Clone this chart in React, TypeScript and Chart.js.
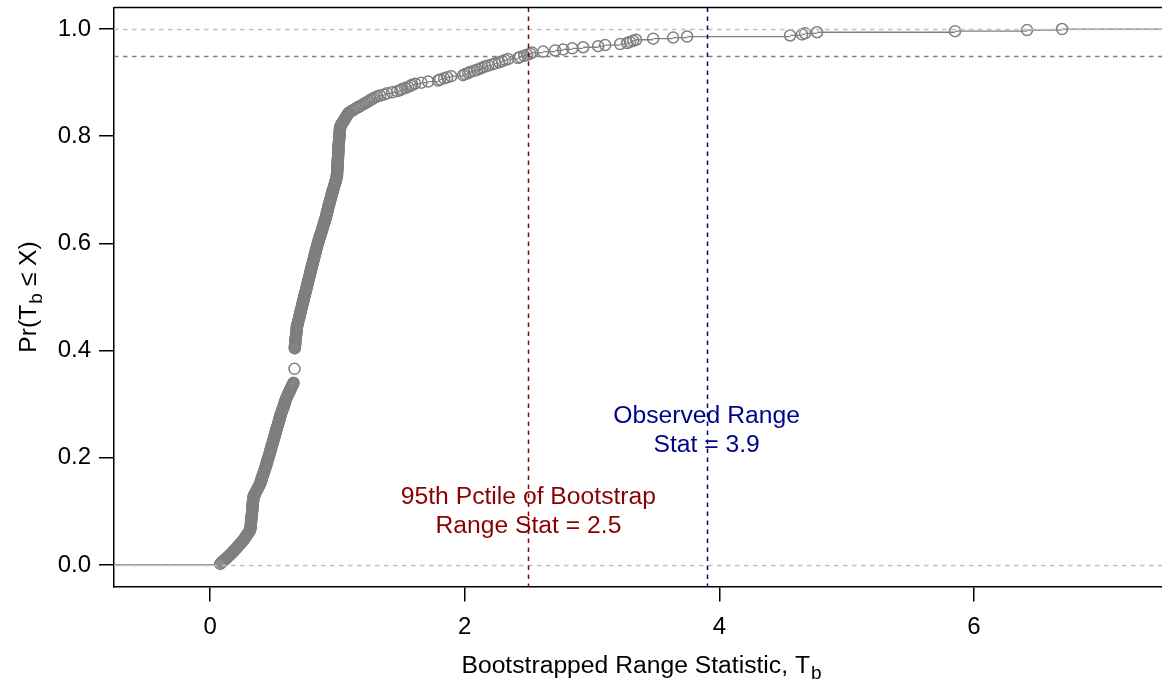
import { useEffect, useRef } from "react";
import { Chart, registerables } from "chart.js";

Chart.register(...registerables);

// Bootstrap range statistics (500 resamples), sorted, split by region of the curve.
const lowerBandSample = [
  0.079, 0.086, 0.095, 0.105, 0.115, 0.125, 0.134, 0.142, 0.151, 0.16, 0.169, 0.177,
  0.185, 0.192, 0.2, 0.208, 0.215, 0.222, 0.23, 0.238, 0.245, 0.252, 0.259, 0.265,
  0.271, 0.277, 0.283, 0.289, 0.295, 0.3, 0.306, 0.311, 0.3135, 0.316, 0.317, 0.318,
  0.3185, 0.319, 0.32, 0.321, 0.3215, 0.322, 0.323, 0.324, 0.325, 0.326, 0.327, 0.328,
  0.3285, 0.329, 0.33, 0.331, 0.3315, 0.332, 0.333, 0.334, 0.3345, 0.335, 0.336, 0.337,
  0.338, 0.339, 0.34, 0.341, 0.345, 0.35, 0.354, 0.359, 0.363, 0.367, 0.372, 0.376,
  0.38, 0.384, 0.389, 0.393, 0.395, 0.398, 0.401, 0.404, 0.406, 0.409, 0.412, 0.415,
  0.417, 0.42, 0.423, 0.426, 0.428, 0.431, 0.434, 0.437, 0.439, 0.442, 0.444, 0.447,
  0.449, 0.452, 0.454, 0.457, 0.459, 0.462, 0.464, 0.467, 0.469, 0.472, 0.474, 0.476,
  0.479, 0.481, 0.483, 0.486, 0.488, 0.491, 0.493, 0.496, 0.498, 0.5, 0.503, 0.505,
  0.508, 0.51, 0.513, 0.515, 0.517, 0.52, 0.522, 0.524, 0.527, 0.529, 0.532, 0.534,
  0.537, 0.539, 0.542, 0.544, 0.547, 0.549, 0.551, 0.554, 0.556, 0.559, 0.562, 0.565,
  0.568, 0.571, 0.574, 0.577, 0.58, 0.583, 0.585, 0.588, 0.591, 0.594, 0.597, 0.6,
  0.603, 0.607, 0.611, 0.615, 0.619, 0.623, 0.627, 0.631, 0.635, 0.639, 0.643, 0.648,
  0.651, 0.655,
];

// repeated resample values in the middle of the curve
const tiedSample = [
  0.662, 0.662, 0.662, 0.662, 0.662, 0.662, 0.662, 0.662, 0.662, 0.662, 0.662, 0.662,
  0.662,
  0.664, 0.664, 0.664, 0.664, 0.664, 0.664, 0.664, 0.664, 0.664, 0.664, 0.664, 0.664,
  0.664, 0.664, 0.664, 0.664, 0.664, 0.664, 0.664,
];

const upperBandSample = [
  0.6648, 0.6656, 0.6664, 0.6672, 0.668, 0.6688, 0.6696, 0.6705, 0.6714, 0.6723, 0.6732,
  0.6741, 0.675, 0.676, 0.677, 0.678, 0.679, 0.68, 0.6805, 0.681, 0.683, 0.685, 0.687,
  0.689, 0.691, 0.693, 0.696, 0.698, 0.7, 0.702, 0.704, 0.706, 0.708, 0.71, 0.712,
  0.714, 0.716, 0.718, 0.72, 0.722, 0.724, 0.726, 0.728, 0.73, 0.733, 0.735, 0.737,
  0.739, 0.741, 0.743, 0.745, 0.747, 0.749, 0.751, 0.754, 0.756, 0.758, 0.76, 0.762,
  0.764, 0.766, 0.768, 0.77, 0.772, 0.774, 0.776, 0.779, 0.781, 0.783, 0.785, 0.787,
  0.789, 0.791, 0.793, 0.796, 0.798, 0.8, 0.802, 0.804, 0.806, 0.808, 0.81, 0.813,
  0.815, 0.817, 0.819, 0.821, 0.823, 0.826, 0.828, 0.83, 0.832, 0.834, 0.836, 0.838,
  0.841, 0.843, 0.846, 0.848, 0.851, 0.853, 0.856, 0.858, 0.861, 0.864, 0.867, 0.869,
  0.872, 0.874, 0.877, 0.879, 0.882, 0.884, 0.887, 0.89, 0.893, 0.895, 0.898, 0.9,
  0.903, 0.905, 0.907, 0.91, 0.912, 0.914, 0.916, 0.918, 0.92, 0.923, 0.925, 0.927,
  0.929, 0.931, 0.933, 0.936, 0.938, 0.94, 0.942, 0.944, 0.946, 0.949, 0.951, 0.953,
  0.955, 0.958, 0.96, 0.963, 0.965, 0.968, 0.97, 0.973, 0.975, 0.978, 0.98, 0.983,
  0.985, 0.988, 0.99, 0.993, 0.995, 0.9955, 0.996, 0.9965, 0.997, 0.9975, 0.998, 0.9985,
  0.999, 0.9995, 1.0, 1.0005, 1.001, 1.0015, 1.002, 1.0025, 1.003, 1.0035, 1.004,
  1.0045, 1.005, 1.0055, 1.006, 1.0065, 1.007, 1.0073, 1.0076, 1.0078, 1.008, 1.0087,
  1.0094, 1.0101, 1.0108, 1.0115, 1.0122, 1.0129, 1.0136, 1.0143, 1.015, 1.0157,
  1.0164, 1.0171, 1.0178, 1.0185, 1.0192, 1.0196, 1.02, 1.022, 1.026, 1.031, 1.036,
  1.041, 1.047, 1.052, 1.057, 1.062, 1.068, 1.073, 1.078, 1.083, 1.089, 1.103, 1.118,
  1.132, 1.146, 1.16, 1.175, 1.19, 1.205, 1.22, 1.235, 1.248, 1.262, 1.276, 1.29,
];

const tailSample = [
  1.31, 1.335, 1.367, 1.39, 1.43, 1.469, 1.493, 1.508, 1.532, 1.555, 1.575, 1.587, 1.61,
  1.66, 1.712, 1.791, 1.807, 1.838, 1.862, 1.893, 1.987, 2.003, 2.027, 2.042, 2.074,
  2.097, 2.121, 2.137, 2.16, 2.184, 2.215, 2.239, 2.27, 2.294, 2.317, 2.341, 2.419,
  2.435, 2.467, 2.49, 2.514, 2.529, 2.616, 2.71, 2.773, 2.844, 2.93, 3.048, 3.103,
  3.221, 3.276, 3.299, 3.323, 3.346, 3.48, 3.637, 3.747, 4.556, 4.65, 4.674, 4.768,
  5.852, 6.418, 6.693,
];

const xTicks = [0, 2, 4, 6];
const yTicks = [0, 0.2, 0.4, 0.6, 0.8, 1.0];
const xRange = [-0.756, 7.478];
const yRange = [-0.04, 1.04];

const pctile95 = 2.5;
const observedStat = 3.9;
const probRefLines = [
  { y: 1.0, color: "#BEBEBE" },
  { y: 0.95, color: "#7F7F7F" },
  { y: 0.0, color: "#BEBEBE" },
];
const pctileLabel = ["95th Pctile of Bootstrap", "Range Stat = 2.5"];
const pctileLabelY = 0.1;
const observedLabel = ["Observed Range", "Stat = 3.9"];
const observedLabelY = 0.25;

const FONT = '"Liberation Sans", Arial, Helvetica, sans-serif';
const FONT_SIZE = 24;
const TEXT_SIZE = 24.7;
const GRAY = "#7F7F7F";
const DARK_RED = "#8B0000";
const DARK_BLUE = "#00008B";

// Empirical CDF: one point per distinct value, at the share of values <= it.
function ecdf(sample: number[]) {
  const sorted = [...sample].sort((a, b) => a - b);
  const n = sorted.length;
  const out: { x: number; y: number }[] = [];
  sorted.forEach((v, i) => {
    if (i + 1 < n && sorted[i + 1] === v) return;
    out.push({ x: v, y: (i + 1) / n });
  });
  return out;
}

function drawWithSubscript(
  ctx: CanvasRenderingContext2D,
  before: string,
  sub: string,
  after: string,
  cx: number,
  baseline: number
) {
  const main = `${TEXT_SIZE}px ${FONT}`;
  const small = `${Math.round(TEXT_SIZE * 0.76)}px ${FONT}`;
  ctx.font = main;
  const w1 = ctx.measureText(before).width;
  const w3 = ctx.measureText(after).width;
  ctx.font = small;
  const w2 = ctx.measureText(sub).width + 1;
  let x = cx - (w1 + w2 + w3) / 2;
  ctx.textAlign = "left";
  ctx.textBaseline = "alphabetic";
  ctx.font = main;
  ctx.fillText(before, x, baseline);
  x += w1 + 1;
  ctx.font = small;
  ctx.fillText(sub, x, baseline + 6);
  x += w2 - 1;
  ctx.font = main;
  ctx.fillText(after, x, baseline);
}

const overlayPlugin = {
  id: "ecdfOverlay",
  afterDatasetsDraw(chart: any) {
    const { ctx, chartArea: a, scales } = chart;
    const xs = scales.x;
    const ys = scales.y;
    ctx.save();
    ctx.beginPath();
    ctx.rect(a.left, a.top, a.right - a.left, a.bottom - a.top);
    ctx.clip();
    ctx.lineWidth = 1.5;
    ctx.setLineDash([4.5, 4.5]);
    for (const ref of probRefLines) {
      const py = Math.round(ys.getPixelForValue(ref.y)) + 0.5;
      ctx.strokeStyle = ref.color;
      ctx.beginPath();
      ctx.moveTo(a.left, py);
      ctx.lineTo(a.right, py);
      ctx.stroke();
    }
    const vlines = [
      { x: pctile95, color: DARK_RED },
      { x: observedStat, color: DARK_BLUE },
    ];
    for (const v of vlines) {
      const px = Math.round(xs.getPixelForValue(v.x)) + 0.5;
      ctx.strokeStyle = v.color;
      ctx.beginPath();
      ctx.moveTo(px, a.top);
      ctx.lineTo(px, a.bottom);
      ctx.stroke();
    }
    ctx.setLineDash([]);

    ctx.font = `${TEXT_SIZE}px ${FONT}`;
    ctx.textAlign = "center";
    ctx.textBaseline = "middle";
    const lineGap = TEXT_SIZE * 1.17;
    const labels = [
      { lines: pctileLabel, x: pctile95, y: pctileLabelY, color: DARK_RED },
      { lines: observedLabel, x: observedStat, y: observedLabelY, color: DARK_BLUE },
    ];
    for (const l of labels) {
      const cx = xs.getPixelForValue(l.x);
      const cy = ys.getPixelForValue(l.y);
      ctx.fillStyle = l.color;
      l.lines.forEach((t, i) => {
        ctx.fillText(t, cx, cy + (i - (l.lines.length - 1) / 2) * lineGap);
      });
    }
    ctx.restore();
  },
  afterDraw(chart: any) {
    const { ctx, chartArea: a } = chart;
    ctx.save();
    // top edge of the plot frame
    ctx.strokeStyle = "#000";
    ctx.lineWidth = 1.5;
    ctx.beginPath();
    ctx.moveTo(a.left, a.top);
    ctx.lineTo(a.right, a.top);
    ctx.stroke();

    ctx.fillStyle = "#000";
    drawWithSubscript(ctx, "Bootstrapped Range Statistic, T", "b", "", (a.left + 1169) / 2, 673);

    ctx.translate(36, (a.top + a.bottom) / 2);
    ctx.rotate(-Math.PI / 2);
    drawWithSubscript(ctx, "Pr(T", "b", " \u2264 X)", 0, 0);
    ctx.restore();
  },
};

export default function App() {
  const canvasRef = useRef<HTMLCanvasElement | null>(null);

  useEffect(() => {
    const canvas = canvasRef.current;
    if (!canvas) return;

    const points = ecdf([...lowerBandSample, ...tiedSample, ...upperBandSample, ...tailSample]);

    // horizontal steps of the empirical CDF, without vertical risers
    const steps: { x: number; y: number | null }[] = [];
    steps.push({ x: xRange[0] - 1, y: 0 }, { x: points[0].x, y: 0 }, { x: points[0].x, y: null });
    points.forEach((p, i) => {
      const next = i + 1 < points.length ? points[i + 1].x : xRange[1] + 1;
      steps.push({ x: p.x, y: p.y }, { x: next, y: p.y }, { x: next, y: null });
    });

    const tickFont = { family: FONT, size: FONT_SIZE };

    const chart = new Chart(canvas, {
      type: "scatter",
      data: {
        datasets: [
          {
            data: points,
            showLine: false,
            pointStyle: "circle",
            pointRadius: 5.5,
            pointBorderWidth: 1.5,
            pointBorderColor: GRAY,
            pointBackgroundColor: "rgba(0,0,0,0)",
            pointHoverRadius: 5.5,
          },
          {
            data: steps as any,
            showLine: true,
            spanGaps: false,
            borderColor: GRAY,
            borderWidth: 1.3,
            pointRadius: 0,
            pointHoverRadius: 0,
            fill: false,
          },
        ],
      },
      options: {
        responsive: false,
        animation: false,
        devicePixelRatio: 1,
        layout: { autoPadding: false, padding: { left: 0, right: 0, top: 7.6, bottom: 0 } },
        plugins: { legend: { display: false }, tooltip: { enabled: false } },
        events: [],
        scales: {
          x: {
            type: "linear",
            min: xRange[0],
            max: xRange[1],
            afterBuildTicks: (s: any) => {
              s.ticks = xTicks.map((v) => ({ value: v }));
            },
            afterFit: (s: any) => {
              s.height = 684 - 586.4;
              s.paddingLeft = 0;
              s.paddingRight = 0;
            },
            grid: {
              display: true,
              drawOnChartArea: false,
              drawTicks: true,
              tickLength: 15,
              color: "#000",
              lineWidth: 1.5,
            },
            border: { display: true, color: "#000", width: 1.5 },
            ticks: {
              font: tickFont,
              color: "#000",
              padding: 12,
              autoSkip: false,
              maxRotation: 0,
              callback: (v: any) => String(v),
            },
          },
          y: {
            type: "linear",
            min: yRange[0],
            max: yRange[1],
            afterBuildTicks: (s: any) => {
              s.ticks = yTicks.map((v) => ({ value: v }));
            },
            afterFit: (s: any) => {
              s.width = 114;
              s.paddingTop = 0;
              s.paddingBottom = 0;
            },
            grid: {
              display: true,
              drawOnChartArea: false,
              drawTicks: true,
              tickLength: 15,
              color: "#000",
              lineWidth: 1.5,
            },
            border: { display: true, color: "#000", width: 1.5 },
            ticks: {
              font: tickFont,
              color: "#000",
              padding: 8,
              autoSkip: false,
              callback: (v: any) => Number(v).toFixed(1),
            },
          },
        },
      },
      plugins: [overlayPlugin],
    });

    return () => chart.destroy();
  }, []);

  return (
    <div style={{ position: "fixed", left: 0, top: 0, width: 1162, height: 684, background: "#fff" }}>
      <canvas ref={canvasRef} width={1162} height={684} />
    </div>
  );
}
